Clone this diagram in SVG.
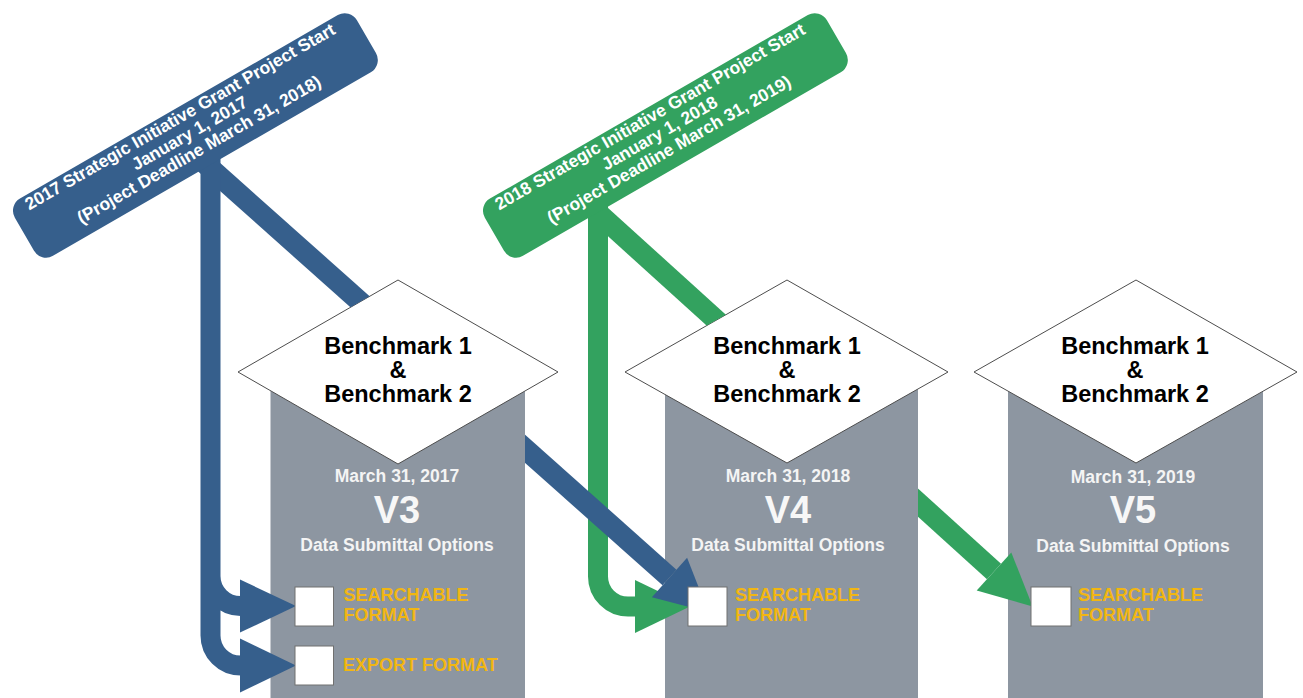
<svg xmlns="http://www.w3.org/2000/svg" width="1303" height="698" viewBox="0 0 1303 698">
<style>
.col{fill:#8d96a1}
.dia{fill:#fff;stroke:#4d4d4d;stroke-width:1}
.bm{font-family:"Liberation Sans",Arial,sans-serif;font-weight:bold;font-size:23.5px;fill:#000;text-anchor:middle}
.date{font-family:"Liberation Sans",Arial,sans-serif;font-weight:bold;font-size:17.5px;fill:#f4f4f4;text-anchor:middle}
.ver{font-family:"Liberation Sans",Arial,sans-serif;font-weight:bold;font-size:38px;fill:#f7f7f7;text-anchor:middle}
.opt{font-family:"Liberation Sans",Arial,sans-serif;font-weight:bold;font-size:18px;fill:#f2b612}
.box{fill:#fff;stroke:#707070;stroke-width:1}
.btxt{font-family:"Liberation Sans",Arial,sans-serif;font-weight:bold;font-size:17.5px;fill:#fff;text-anchor:middle}
.bluef{fill:#365f8c}
.greenf{fill:#33a25f}
.bluel{fill:none;stroke:#365f8c;stroke-width:20}
.greenl{fill:none;stroke:#33a25f;stroke-width:20}
.diag{stroke-width:21}
</style>
<defs>
<clipPath id="clipBlue"><path clip-rule="evenodd" d="M0,0 H1303 V698 H0 Z M398,280 L558,372 L525,391 L525,700 L270.5,700 L270.5,390.7 L238,372 Z"/></clipPath>
<clipPath id="clipGreen"><path clip-rule="evenodd" d="M0,0 H1303 V698 H0 Z M787,280 L948,372 L918,389 L918,700 L665,700 L665,394.5 L625,372 Z"/></clipPath>
</defs>

<g id="node-v3">
<rect class="col" x="270.5" y="372" width="254.5" height="326"/>
<polygon class="dia" points="398,280 558,372 398,464 238,372"/>
<text class="bm" x="398" y="354">Benchmark 1</text>
<text class="bm" x="398" y="378">&amp;</text>
<text class="bm" x="398" y="402">Benchmark 2</text>
<text class="date" x="397" y="482">March 31, 2017</text>
<text class="ver" x="397" y="523">V3</text>
<text class="date" x="397" y="551">Data Submittal Options</text>
</g>

<g id="node-v4">
<rect class="col" x="665" y="372" width="253" height="326"/>
<polygon class="dia" points="787,280 948,372 787,463 625,372"/>
<text class="bm" x="787" y="354">Benchmark 1</text>
<text class="bm" x="787" y="378">&amp;</text>
<text class="bm" x="787" y="402">Benchmark 2</text>
<text class="date" x="788" y="482">March 31, 2018</text>
<text class="ver" x="788" y="523">V4</text>
<text class="date" x="788" y="551">Data Submittal Options</text>
</g>

<g id="node-v5">
<rect class="col" x="1008" y="372" width="255" height="326"/>
<polygon class="dia" points="1136,280 1297,372 1136,463 974,372"/>
<text class="bm" x="1135" y="354">Benchmark 1</text>
<text class="bm" x="1135" y="378">&amp;</text>
<text class="bm" x="1135" y="402">Benchmark 2</text>
<text class="date" x="1133" y="483">March 31, 2019</text>
<text class="ver" x="1133" y="523">V5</text>
<text class="date" x="1133" y="552">Data Submittal Options</text>
</g>

<g id="connectors">
<line class="greenl diag" x1="590" y1="205.8" x2="994" y2="571.5" clip-path="url(#clipGreen)"/>
<polygon class="greenf" points="1011.3,552.4 1032.6,606.4 976.7,590.6"/>
<path class="greenl" d="M598,200 V576.5 A30,30 0 0 0 628,606.5 H637"/>
<polygon class="greenf" points="635,580 690,606.5 635,633"/>
<line class="bluel diag" x1="199.5" y1="158.7" x2="669.5" y2="577.5" clip-path="url(#clipBlue)"/>
<polygon class="bluef" points="687.1,557.7 708.3,612.1 651.9,597.3"/>
<path class="bluel" d="M210.5,150 V635.5 A30,30 0 0 0 240.5,665.5 H243 M210.5,560 V576 A30,30 0 0 0 240.5,606 H243"/>
<polygon class="bluef" points="240,579.5 296,606 240,632.5"/>
<polygon class="bluef" points="240,638.5 296,665.5 240,692.5"/>
</g>

<g id="banner-2017" transform="translate(195.4,135.4) rotate(-30)">
<rect class="bluef" x="-197.5" y="-33" width="395" height="66" rx="14"/>
<text class="btxt" x="-4" y="-18">2017 Strategic Initiative Grant Project Start</text>
<text class="btxt" x="-4" y="1">January 1, 2017</text>
<text class="btxt" x="-4" y="20">(Project Deadline March 31, 2018)</text>
</g>

<g id="banner-2018" transform="translate(665.4,135.4) rotate(-30)">
<rect class="greenf" x="-197.5" y="-33" width="395" height="66" rx="14"/>
<text class="btxt" x="-4" y="-18">2018 Strategic Initiative Grant Project Start</text>
<text class="btxt" x="-4" y="1">January 1, 2018</text>
<text class="btxt" x="-4" y="20">(Project Deadline March 31, 2019)</text>
</g>

<g id="v3-options">
<rect class="box" x="295" y="587" width="38.5" height="39"/>
<text class="opt" x="343.5" y="601">SEARCHABLE</text>
<text class="opt" x="343.5" y="621">FORMAT</text>
<rect class="box" x="295" y="646" width="38.5" height="39"/>
<text class="opt" x="343" y="671">EXPORT FORMAT</text>
</g>

<g id="v4-options">
<rect class="box" x="688" y="587" width="39" height="39"/>
<text class="opt" x="735" y="601">SEARCHABLE</text>
<text class="opt" x="735" y="621">FORMAT</text>
</g>

<g id="v5-options">
<rect class="box" x="1031" y="587" width="40" height="39"/>
<text class="opt" x="1078" y="601">SEARCHABLE</text>
<text class="opt" x="1078" y="621">FORMAT</text>
</g>
</svg>
